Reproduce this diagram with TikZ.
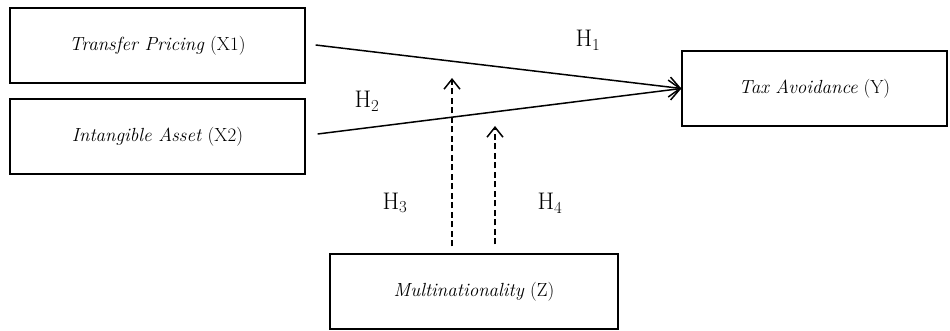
\documentclass[tikz,border=0pt]{standalone}
\usepackage{fontspec}
\usetikzlibrary{arrows.meta}
\begin{document}
\begin{tikzpicture}[x=1pt,y=-1pt,
  box/.style={draw,line width=1.2pt,inner sep=0pt,minimum height=75pt,font=\fontsize{19}{22}\selectfont},
  solidarrow/.style={line width=1.5pt,-{Straight Barb[length=11pt,width=20pt,line width=1.5pt]}},
  dasharrow/.style={line width=1.5pt,dash pattern=on 6pt off 3.5pt,-{Straight Barb[length=10pt,width=16pt,line width=1.5pt]}},
  hlab/.style={font=\fontsize{24}{28}\selectfont}]
\useasboundingbox (0,0) rectangle (950,331);
\node[box,minimum width=295pt] (x1) at (157.5,45.5) {\textit{Transfer Pricing} (X1)};
\node[box,minimum width=295pt] (x2) at (157.5,136.5) {\textit{Intangible Asset} (X2)};
\node[box,minimum width=265pt] (y) at (814.5,88.5) {\textit{Tax Avoidance} (Y)};
\node[box,minimum width=288pt] (z) at (474,291.5) {\textit{Multinationality} (Z)};
\draw[solidarrow] ([xshift=10pt,yshift=0.5pt]x1.east) -- (y.west);
\draw[solidarrow] ([xshift=12pt,yshift=2.5pt]x2.east) -- (y.west);
\coordinate (t3) at (452,78);
\coordinate (t4) at (495,126);
\draw[dasharrow] ([yshift=7pt]z.north -| t3) -- (t3);
\draw[dasharrow] ([yshift=9pt]z.north -| t4) -- (t4);
\node[hlab] (h1) at (588,40) {H\textsubscript{1}};
\node[hlab] (h2) at (367,101) {H\textsubscript{2}};
\node[hlab] (h3) at (395,203) {H\textsubscript{3}};
\node[hlab] (h4) at (550,203) {H\textsubscript{4}};
\end{tikzpicture}
\end{document}
